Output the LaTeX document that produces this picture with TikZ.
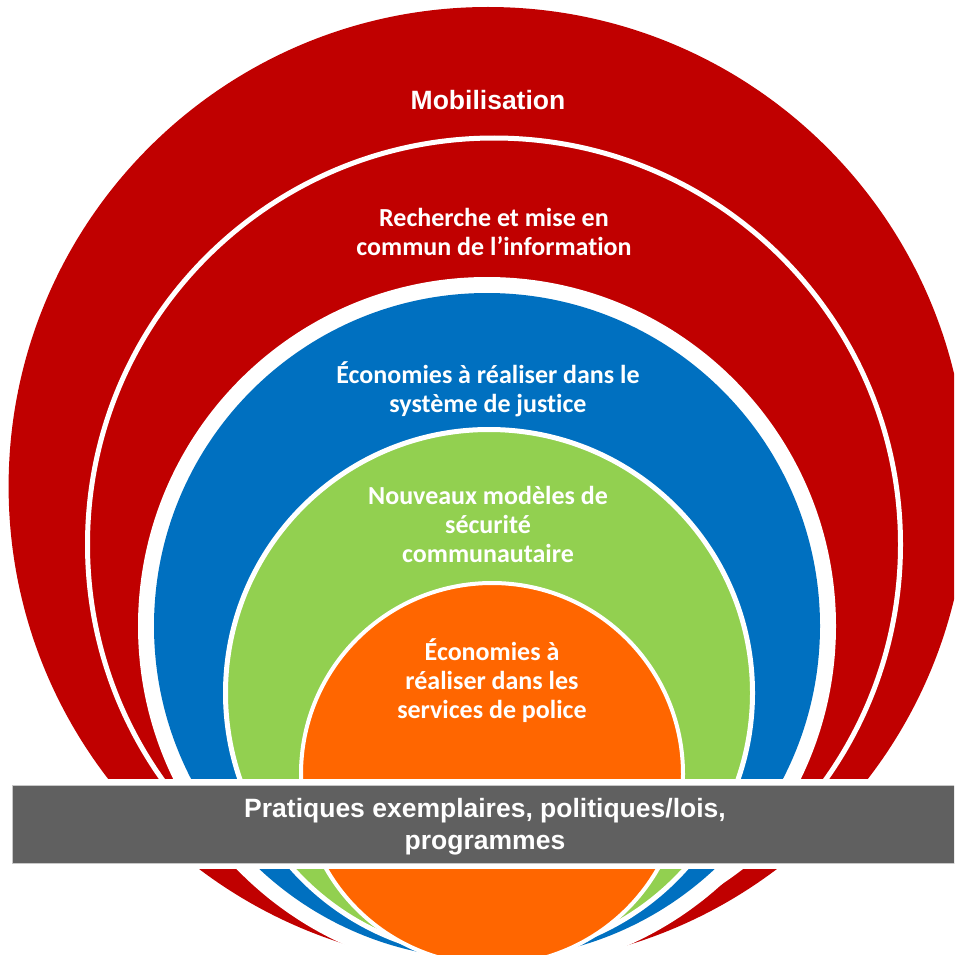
\documentclass[tikz,border=0pt]{standalone}
\usepackage{fontspec}
\newfontfamily\arialf{Liberation Sans}
\newfontfamily\calibf[Ligatures={NoCommon}]{Carlito}
\definecolor{redc}{HTML}{C00000}
\definecolor{bluec}{HTML}{0070C0}
\definecolor{greenc}{HTML}{92D050}
\definecolor{orangec}{HTML}{FF6600}
\definecolor{barc}{HTML}{606060}
\definecolor{baredge}{HTML}{C8C8C8}
\tikzset{
  ringtext/.style={text=white, align=center, inner sep=0pt, anchor=north,
    font=\calibf\bfseries\fontsize{26}{29}\selectfont},
  arialtext/.style={text=white, align=center, inner sep=0pt, anchor=north,
    font=\arialf\bfseries\fontsize{26.5}{32}\selectfont},
  barbox/.style={fill=barc, draw=baredge, line width=1pt, inner sep=0pt, anchor=north west}
}
\begin{document}
\begin{tikzpicture}[x=1pt,y=-1pt]
\useasboundingbox (0,0) rectangle (954,955);
\begin{scope}
\clip (0,0) rectangle (954,955);
\fill[redc] (488,486.4) circle[radius=479.4pt];
\filldraw[fill=redc, draw=white, line width=5pt] (494,544.5) circle[radius=406.5pt];
\fill[white] (487,626) circle[radius=349pt];
\fill[bluec] (487,626) circle[radius=333pt];
\filldraw[fill=greenc, draw=white, line width=5pt] (489,693) circle[radius=263.5pt];
\filldraw[fill=orangec, draw=white, line width=4pt] (492,774) circle[radius=191pt];
\fill[white] (0,779) rectangle (954,869);
\node[barbox, minimum width=950pt, minimum height=78pt] (bar) at (12,785) {};
\end{scope}
\node[arialtext] (mob) at (488,90.5) {Mobilisation};
\node[ringtext] (rech) at (494,208) {Recherche et mise en\\commun de l’information};
\node[ringtext] (just) at (488,361.5) {Économies à réaliser dans le\\système de justice};
\node[ringtext] (secu) at (488,486.5) {Nouveaux modèles de\\sécurité\\communautaire};
\node[ringtext] (poli) at (492,638.3) {Économies à\\réaliser dans les\\services de police};
\node[arialtext] (prat) at (485,798) {Pratiques exemplaires, politiques/lois,\\programmes};
\end{tikzpicture}
\end{document}
